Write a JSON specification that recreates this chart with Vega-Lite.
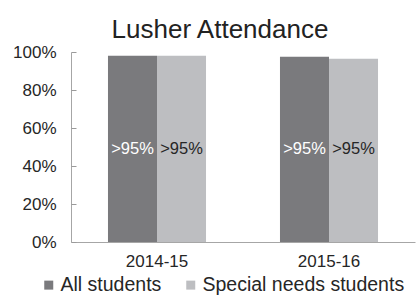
{
  "$schema": "https://vega.github.io/schema/vega-lite/v6.json",
  "width": 344,
  "height": 190,
  "autosize": "none",
  "padding": {"left": 71, "top": 52, "right": 3, "bottom": 53},
  "background": "white",
  "config": {"view": {"stroke": null}, "font": "Liberation Sans"},
  "title": {"text": "Lusher Attendance", "fontSize": 26, "fontWeight": "normal", "color": "#222222", "anchor": "middle", "dx": -23, "offset": 0},
  "data": {"values": [
    {"year": "2014-15", "group": "All students", "value": 0.98, "label": ">95%"},
    {"year": "2014-15", "group": "Special needs students", "value": 0.98, "label": ">95%"},
    {"year": "2015-16", "group": "All students", "value": 0.975, "label": ">95%"},
    {"year": "2015-16", "group": "Special needs students", "value": 0.965, "label": ">95%"}
  ]},
  "encoding": {
    "x": {"field": "year", "type": "nominal", "scale": {"paddingInner": 0.43, "paddingOuter": 0.215},
      "axis": {"title": null, "labelAngle": 0, "labelFontSize": 17, "labelColor": "#262626", "ticks": false, "labelPadding": 11, "domainColor": "#a6a6a6"}},
    "xOffset": {"field": "group", "type": "nominal", "scale": {"paddingInner": 0, "paddingOuter": 0}}
  },
  "layer": [
    {"mark": {"type": "bar"},
     "encoding": {
       "y": {"field": "value", "type": "quantitative", "scale": {"domain": [0, 1]},
         "axis": {"title": null, "orient": "left", "format": "%", "values": [0, 0.2, 0.4, 0.6, 0.8, 1], "grid": false, "labelOverlap": false, "labelFontSize": 17, "labelColor": "#262626", "ticks": false, "domainColor": "#a6a6a6", "labelPadding": 15}},
       "color": {"field": "group", "type": "nominal", "scale": {"range": ["#7a7a7d", "#bdbec1"]},
         "legend": {"title": null, "orient": "none", "legendX": -32, "legendY": 223, "direction": "horizontal", "symbolType": "square", "symbolSize": 81, "labelFontSize": 19.5, "labelColor": "#262626", "labelOffset": 2, "labelLimit": 400, "columnPadding": 19, "symbolStrokeWidth": 0}}
     }},
    {"mark": {"type": "bar", "opacity": 0},
     "encoding": {
       "y": {"field": "value", "type": "quantitative", "scale": {"domain": [0, 1]},
         "axis": {"title": null, "orient": "right", "offset": -344, "values": [0, 0.2, 0.4, 0.6, 0.8, 1], "grid": false, "labels": false, "domain": false, "ticks": true, "tickSize": 5, "tickColor": "#9a9a9a"}}
     }},
    {"mark": {"type": "text", "baseline": "middle", "fontSize": 16.5},
     "encoding": {
       "y": {"datum": 0.49, "type": "quantitative", "scale": {"domain": [0, 1]}, "axis": null},
       "text": {"field": "label"},
       "color": {"condition": {"test": "datum.group == 'All students'", "value": "white"}, "value": "#262626"}
     }}
  ],
  "resolve": {"scale": {"y": "independent"}, "axis": {"y": "independent"}}
}
